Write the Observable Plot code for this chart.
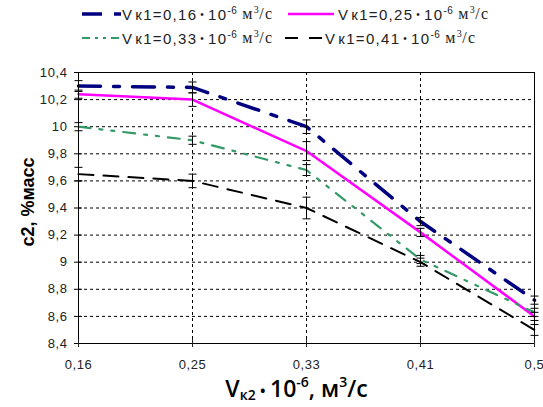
<!DOCTYPE html>
<html>
<head>
<meta charset="utf-8">
<script src="https://cdn.jsdelivr.net/npm/d3@7"></script>
<script src="https://cdn.jsdelivr.net/npm/@observablehq/plot@0.6"></script>
<style>
  html, body { margin: 0; padding: 0; background: #fff; }
  #wrap { position: relative; width: 543px; height: 407px; overflow: hidden; font-family: "Liberation Sans", Arial, sans-serif; }
  #legend { position: relative; width: 543px; height: 55px; }
  .item { position: absolute; display: flex; align-items: center; font-size: 15px; color: #222; white-space: nowrap; letter-spacing: 1.3px; }
  .item svg { display: block; }
  .item sup { font-size: 10px; vertical-align: 6px; line-height: 0; letter-spacing: 0.5px; }
  .serif { font-family: "Liberation Serif", serif; font-size: 16px; }
  svg.chart text { font-family: "Liberation Sans", Arial, sans-serif; }
  g[aria-label="y-axis tick label"] text, g[aria-label="x-axis tick label"] text { letter-spacing: 0.6px; }
</style>
</head>
<body>
<div id="wrap">
  <div id="legend"></div>
  <div id="chart"></div>
</div>
<script>
// ---- data ----
const xCats = ["0,16", "0,25", "0,33", "0,41", "0,5"];
const seriesLabels = ["0,16", "0,25", "0,33", "0,41"];
const s016 = [10.30, 10.29, 10.00, 9.30, 8.72];
const s025 = [10.24, 10.20, 9.82, 9.22, 8.60];
const s033 = [10.00, 9.90, 9.68, 9.02, 8.63];
const s041 = [9.65, 9.60, 9.40, 9.00, 8.50];
const e016 = [0.04, 0.04, 0.05, 0.03, 0.03];
const e025 = [0.03, 0.05, 0.07, 0.03, 0.03];
const e033 = [0.03, 0.03, 0.04, 0.03, 0.03];
const e041 = [0.05, 0.05, 0.08, 0.03, 0.04];
const yTicks = [8.4, 8.6, 8.8, 9.0, 9.2, 9.4, 9.6, 9.8, 10.0, 10.2, 10.4];

// ---- styles per series ----
const styles = [
  {color: "#000080", dash: "22,13,6,13", width: 3.5, legendDash: "20,12,7", legendW: 3.5},
  {color: "#ff00ff", dash: null, width: 2.5, legendDash: null, legendW: 2.5},
  {color: "#339966", dash: "12,9,3,9,3,9", width: 2.2, legendDash: "8,5,3,5,3,5", legendW: 1.8},
  {color: "#000000", dash: "15,10", width: 2, legendDash: "13,11", legendW: 1.8}
];
const allValues = [s016, s025, s033, s041];
const allErr = [e016, e025, e033, e041];

const rows = [];
allValues.forEach((vals, si) => vals.forEach((v, i) => rows.push({s: si, x: xCats[i], y: v, lo: v - allErr[si][i], hi: v + allErr[si][i]})));

// ---- legend ----
const legendPos = [
  {left: 82, top: 4}, {left: 288, top: 4}, {left: 82, top: 28}, {left: 285, top: 28}
];
const legend = document.getElementById("legend");
seriesLabels.forEach((lab, i) => {
  const st = styles[i];
  const sw = i === 1 ? 46 : 40;
  const div = document.createElement("div");
  div.className = "item";
  div.style.left = legendPos[i].left + "px";
  div.style.top = legendPos[i].top + "px";
  div.innerHTML =
    `<svg width="${sw}" height="20"><line x1="0" x2="${sw}" y1="10" y2="10" stroke="${st.color}" stroke-width="${st.legendW}" ${st.legendDash ? `stroke-dasharray="${st.legendDash}"` : ""}/></svg>` +
    `<span style="margin-left:${i===1?4:0}px">V</span><span style="margin-left:2px">к1=${lab}</span><span style="font-size:10px;margin:0 3px">•</span><span>10<sup>-6</sup></span><span class="serif" style="margin-left:5px">м<sup>3</sup>/с</span>`;
  legend.appendChild(div);
});

// ---- chart ----
const fmt = d => String(+d.toFixed(1)).replace(".", ",");
const hbar = {draw(ctx, size) { const w = Math.sqrt(size / Math.PI); ctx.moveTo(-w, 0); ctx.lineTo(w, 0); }};

const marks = [
  Plot.gridY(yTicks.slice(1, -1), {stroke: "#000", strokeOpacity: 1, strokeDasharray: "3,3", strokeWidth: 1}),
  Plot.gridX(xCats.slice(1, -1), {stroke: "#000", strokeOpacity: 1, strokeDasharray: "3,3", strokeWidth: 1}),
  Plot.frame({stroke: "#000", strokeWidth: 1}),
  Plot.axisY({ticks: yTicks, tickFormat: fmt, tickSize: 8, dx: 4, tickPadding: 7, fontSize: 13, label: null, stroke: "#000", color: "#222"}),
  Plot.axisX({tickSize: 8, dy: -4, tickPadding: 12, fontSize: 13, label: null, color: "#222"})
];
styles.forEach((st, si) => {
  const data = rows.filter(r => r.s === si);
  marks.push(Plot.line(data, {x: "x", y: "y", stroke: st.color, strokeWidth: st.width, strokeDasharray: st.dash || undefined, curve: "linear"}));
});
marks.push(
  Plot.ruleX(rows, {x: "x", y1: "lo", y2: "hi", stroke: "#000", strokeWidth: 1}),
  Plot.dot(rows, {x: "x", y: "lo", symbol: hbar, r: 4, stroke: "#000", strokeWidth: 1, fill: "none"}),
  Plot.dot(rows, {x: "x", y: "hi", symbol: hbar, r: 4, stroke: "#000", strokeWidth: 1, fill: "none"}),
  Plot.text(["c2, %масс"], {frameAnchor: "left", textAnchor: "middle", lineAnchor: "middle", dx: -50, dy: -6, rotate: -90, fontSize: 18, fontWeight: "bold", fill: "#000"}),
  Plot.text(["Vк2"], {frameAnchor: "bottom", textAnchor: "middle", lineAnchor: "bottom", dx: -10, dy: 53, fontSize: 23, fill: "#000", className: "xlab"})
);

const chart = Plot.plot({
  width: 543,
  height: 352,
  marginLeft: 78,
  marginRight: 9,
  marginTop: 17,
  marginBottom: 64,
  className: "chart",
  style: {background: "#fff", overflow: "visible"},
  x: {type: "point", domain: xCats, padding: 0},
  y: {domain: [8.4, 10.4]},
  marks
});
document.getElementById("chart").appendChild(chart);

// rich x label with sub/superscripts
const t = d3.select(chart).select("g.xlab text");
t.text(null).style("font-family", "'Open Sans', 'Liberation Sans', sans-serif").style("font-weight", "600");
t.append("tspan").text("V");
t.append("tspan").attr("font-size", 14).attr("dy", 3).text("к2");
t.append("tspan").attr("dy", -3).attr("font-size", 16).text(" • ");
t.append("tspan").text("10");
t.append("tspan").attr("font-size", 14).attr("dy", -10).text("-6");
t.append("tspan").attr("dy", 10).text(", м");
t.append("tspan").attr("font-size", 14).attr("dy", -10).text("3");
t.append("tspan").attr("dy", 10).text("/с");
</script>
</body>
</html>
